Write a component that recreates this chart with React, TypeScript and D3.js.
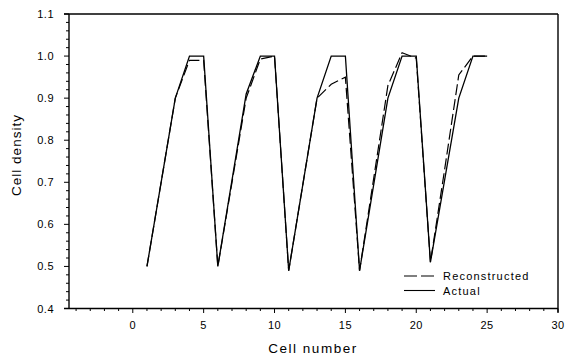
import React from "react";
import * as d3 from "d3";

const cells = [1, 2, 3, 4, 5, 6, 7, 8, 9, 10, 11, 12, 13, 14, 15, 16, 17, 18, 19, 20, 21, 22, 23, 24, 25];
const actual = [0.5, 0.7, 0.9, 1.0, 1.0, 0.5, 0.705, 0.91, 1.0, 1.0, 0.49, 0.695, 0.9, 1.0, 1.0, 0.49, 0.695, 0.9, 1.0, 1.0, 0.51, 0.705, 0.9, 1.0, 1.0];
const reconstructed = [0.5, 0.7, 0.9, 0.99, 0.99, 0.5, 0.7, 0.9, 0.993, 1.0, 0.49, 0.695, 0.9, 0.933, 0.95, 0.49, 0.71, 0.93, 1.008, 0.995, 0.51, 0.73, 0.955, 1.0, 1.0];
const xTickLabels = [0, 5, 10, 15, 20, 25, 30];
const yTickLabels = [0.4, 0.5, 0.6, 0.7, 0.8, 0.9, 1.0, 1.1];
const legendLabels = ["Reconstructed", "Actual"];

const W = 565;
const H = 358;
const L = 69, R = 558, T = 14, B = 308.5;

export default function App() {
  const x = d3.scaleLinear().domain([-4.5, 30]).range([L, R]);
  const y = d3.scaleLinear().domain([0.4, 1.1]).range([B, T]);
  const line = d3.line<number>().x((_, i) => x(cells[i])).y((d) => y(d));
  const xMinor = d3.range(-4, 31, 1);
  const yMinor = d3.range(0, 36).map((i) => 0.4 + i * 0.02);
  const font = "'Liberation Sans', Arial, sans-serif";
  return (
    <svg width={W} height={H} style={{ position: "absolute", left: 0, top: 0, background: "#fff" }}>
      <g stroke="#000" fill="none" strokeWidth={1.4}>
        <line x1={L - 5} x2={R} y1={T} y2={T} />
        <line x1={R} x2={R} y1={T} y2={B + 4} />
        <line x1={L} x2={L} y1={T} y2={B} />
        <line x1={L - 5} x2={R} y1={B} y2={B} />
      </g>
      <g stroke="#000" strokeWidth={1}>
        {xMinor.map((v) => (
          <line key={"xm" + v} x1={x(v)} x2={x(v)} y1={B} y2={B + (v % 5 === 0 ? 4.5 : 2.5)} />
        ))}
        {yMinor.map((v, i) => (
          <line key={"ym" + i} x1={L - (i % 5 === 0 ? 5 : 3)} x2={L} y1={y(v)} y2={y(v)} />
        ))}
      </g>
      <g fontFamily={font} fontSize={11} fill="#000">
        {xTickLabels.map((v) => (
          <text key={"xl" + v} x={x(v)} y={B + 20} textAnchor="middle" letterSpacing={0.5}>{v}</text>
        ))}
        {yTickLabels.map((v) => (
          <text key={"yl" + v} x={L - 15} y={y(v) + 4} textAnchor="end" letterSpacing={0.5}>{v.toFixed(1)}</text>
        ))}
      </g>
      <text x={313} y={353} textAnchor="middle" fontFamily={font} fontSize={13.5} letterSpacing={1.5}>Cell number</text>
      <text transform={`translate(21,155) rotate(-90)`} textAnchor="middle" fontFamily={font} fontSize={13.5} letterSpacing={1}>Cell density</text>
      <path d={line(reconstructed) || ""} fill="none" stroke="#000" strokeWidth={1.2} strokeDasharray="11,4" />
      <path d={line(actual) || ""} fill="none" stroke="#000" strokeWidth={1.3} />
      <g fontFamily={font} fontSize={11} letterSpacing={1.2}>
        <line x1={404} x2={435} y1={276} y2={276} stroke="#000" strokeWidth={1.1} strokeDasharray="13,4" />
        <text x={443} y={280}>{legendLabels[0]}</text>
        <line x1={404} x2={435} y1={290.5} y2={290.5} stroke="#000" strokeWidth={1.1} />
        <text x={443} y={295}>{legendLabels[1]}</text>
      </g>
    </svg>
  );
}
